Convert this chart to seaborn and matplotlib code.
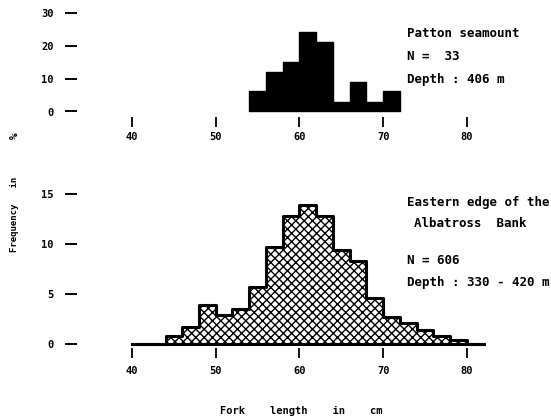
import matplotlib
matplotlib.use("Agg")
import matplotlib.pyplot as plt
import numpy as np
import seaborn as sns

# Patton seamount, N = 33, 2 cm length classes, % of fish
patton_edges = [54, 56, 58, 60, 62, 64, 66, 68, 70, 72]
patton_pct = [6.1, 12.1, 15.2, 24.2, 21.2, 3.0, 9.1, 3.0, 6.1]

# Eastern edge of the Albatross Bank, N = 606
albatross_edges = [40, 42, 44, 46, 48, 50, 52, 54, 56, 58, 60, 62, 64,
                   66, 68, 70, 72, 74, 76, 78, 80, 82]
albatross_pct = [0, 0, 0.8, 1.7, 3.9, 2.9, 3.5, 5.7, 9.7, 12.8, 13.9,
                 12.8, 9.4, 8.3, 4.6, 2.7, 2.1, 1.4, 0.8, 0.4, 0]

x_ticks = [40, 50, 60, 70, 80]
top_yticks = [0, 10, 20, 30]
bottom_yticks = [0, 5, 10, 15]

sns.set_theme(style="white")
plt.rcParams["font.family"] = ["DejaVu Sans Mono", "DejaVu Sans"]
plt.rcParams["font.weight"] = "bold"
plt.rcParams["text.color"] = "black"
plt.rcParams["hatch.linewidth"] = 1.0

W, H = 551, 419
fig = plt.figure(figsize=(W / 100, H / 100), dpi=100)

# x: 40 cm at 132 px, 80 cm at 467 px
px_cm = (467 - 132) / 40
x0 = 40 - (132 - 77) / px_cm
x1 = 88
ax_left = 77 / W
ax_width = (x1 - x0) * px_cm / W

ax_top = fig.add_axes([ax_left, (H - 111.5) / H, ax_width, 98.5 / H])
ax_bot = fig.add_axes([ax_left, (H - 344) / H, ax_width, 150 / H])


def centers(edges):
    e = np.asarray(edges, dtype=float)
    return (e[:-1] + e[1:]) / 2


sns.histplot(x=centers(patton_edges), weights=patton_pct, bins=patton_edges,
             element="step", fill=True, color="black", alpha=1,
             linewidth=1, ax=ax_top)

sns.histplot(x=centers(albatross_edges), weights=albatross_pct,
             bins=albatross_edges, element="step", fill=True, color="black",
             facecolor="white", edgecolor="black", hatch="xxxx", alpha=1,
             linewidth=2.2, ax=ax_bot)

for ax in (ax_top, ax_bot):
    for c in ax.collections:
        c.set_clip_on(False)

ax_top.set_ylim(0, 30)
ax_bot.set_ylim(0, 15)
ax_top.set_yticks(top_yticks)
ax_bot.set_yticks(bottom_yticks)

for ax, off, pad in ((ax_top, 4, 3.6), (ax_bot, 3, 5.7)):
    ax.set_xlim(x0, x1)
    ax.set_xticks(x_ticks)
    ax.set_xlabel("")
    ax.set_ylabel("")
    for s in ax.spines.values():
        s.set_visible(False)
    ax.spines["bottom"].set_position(("outward", off))
    ax.tick_params(axis="y", left=True, length=8.6, width=1.4, pad=8,
                   direction="out", labelsize=7.5, colors="black")
    ax.tick_params(axis="x", bottom=True, length=7.2, width=1.3, pad=pad,
                   direction="out", labelsize=7.5, colors="black")
    ax.patch.set_alpha(0)

# site annotations
ax_top.text(72.8, 23.9, "Patton seamount", fontsize=9, va="center")
ax_top.text(72.8, 16.9, "N =  33", fontsize=9, va="center")
ax_top.text(72.8, 9.6, "Depth : 406 m", fontsize=9, va="center")

ax_bot.text(72.8, 14.2, "Eastern edge of the", fontsize=9, va="center")
ax_bot.text(73.7, 12.1, "Albatross  Bank", fontsize=9, va="center")
ax_bot.text(72.8, 8.4, "N = 606", fontsize=9, va="center")
ax_bot.text(72.8, 6.2, "Depth : 330 - 420 m", fontsize=9, va="center")

fig.text(15 / W, 1 - 196 / H, "Frequency   in       ", rotation=90,
         fontsize=6.5, ha="center", va="center")
fig.text(15 / W, 1 - 136 / H, "%", rotation=90, fontsize=8,
         ha="center", va="center")
fig.text(301 / W, 1 - 411 / H, "Fork    length    in    cm", fontsize=7.5,
         ha="center", va="center")

fig.savefig("out.png", dpi=100)
